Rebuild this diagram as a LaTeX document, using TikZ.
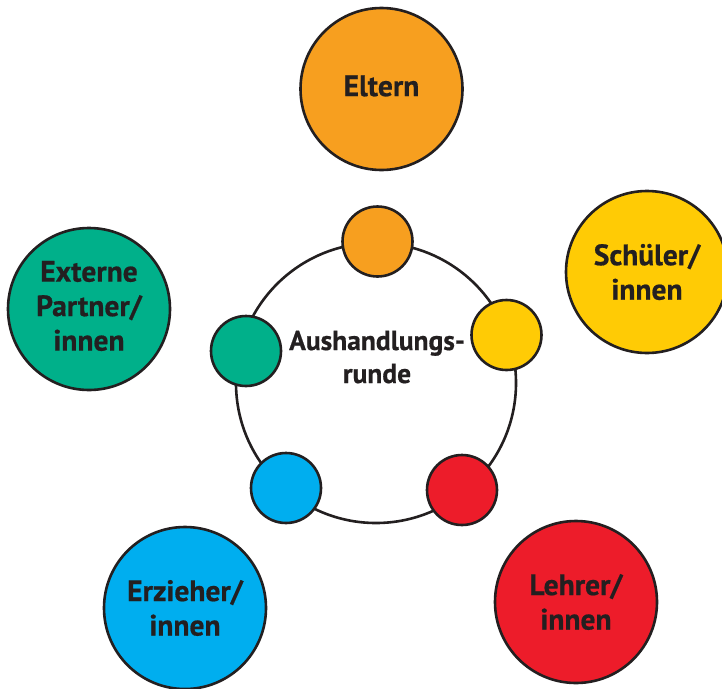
\documentclass[tikz,border=0pt]{standalone}
\usepackage{fontspec}
\setmainfont{PT Sans}[BoldFeatures={FakeBold=0.6}]
\definecolor{cOrange}{HTML}{F79F1F}
\definecolor{cYellow}{HTML}{FFCB05}
\definecolor{cRed}{HTML}{ED1C2A}
\definecolor{cBlue}{HTML}{00AEEF}
\definecolor{cGreen}{HTML}{00B08A}
\definecolor{cInk}{HTML}{231F20}
\tikzset{
  bigball/.style={circle, draw=cInk, line width=2.6pt, minimum size=162pt, inner sep=0pt,
    align=center, text=cInk, font=\fontsize{29.5}{34.5}\selectfont\bfseries},
  smallball/.style={circle, draw=cInk, line width=2.6pt, minimum size=70pt, inner sep=0pt},
  ring/.style={circle, draw=cInk, line width=2.6pt, minimum size=280pt, inner sep=0pt},
  titletext/.style={text=cInk, font=\fontsize{27.5}{33}\selectfont\bfseries, align=center, inner sep=0pt}
}
\begin{document}
\begin{tikzpicture}[x=1pt,y=-1pt]
\useasboundingbox (0,0) rectangle (722,688);
\fill[white] (0,0) rectangle (722,688);
% central ring
\node[ring] (ring) at (376,383) {};
\node[titletext] (title) at (377,357) {Aushandlungs-\\runde};
% small circles on the ring
\node[smallball, fill=cOrange] (sOrange) at (377.5,241.5) {};
\node[smallball, fill=cYellow] (sYellow) at (506.5,335) {};
\node[smallball, fill=cRed] (sRed) at (462,490) {};
\node[smallball, fill=cBlue] (sBlue) at (286,488) {};
\node[smallball, fill=cGreen] (sGreen) at (246,351) {};
% outer circles
\node[bigball, fill=cOrange] (eltern) at (381.5,89) {};
\node[text=cInk, font=\fontsize{29.5}{34.5}\selectfont\bfseries] (elternlabel) at (eltern.center) [yshift=3pt] {Eltern};
\node[bigball, fill=cYellow] (schueler) at (647,272) {Schüler/\\innen};
\node[bigball, fill=cRed] (lehrer) at (576,602) {Lehrer/\\innen};
\node[bigball, fill=cBlue] (erzieher) at (185,608) {Erzieher/\\innen};
\node[bigball, fill=cGreen] (extern) at (89,309) {};
\node[text=cInk, font=\fontsize{29.5}{34.5}\selectfont\bfseries, align=center] (externlabel) at (extern.center) [yshift=3pt] {Externe\\Partner/\\innen};
\end{tikzpicture}
\end{document}
